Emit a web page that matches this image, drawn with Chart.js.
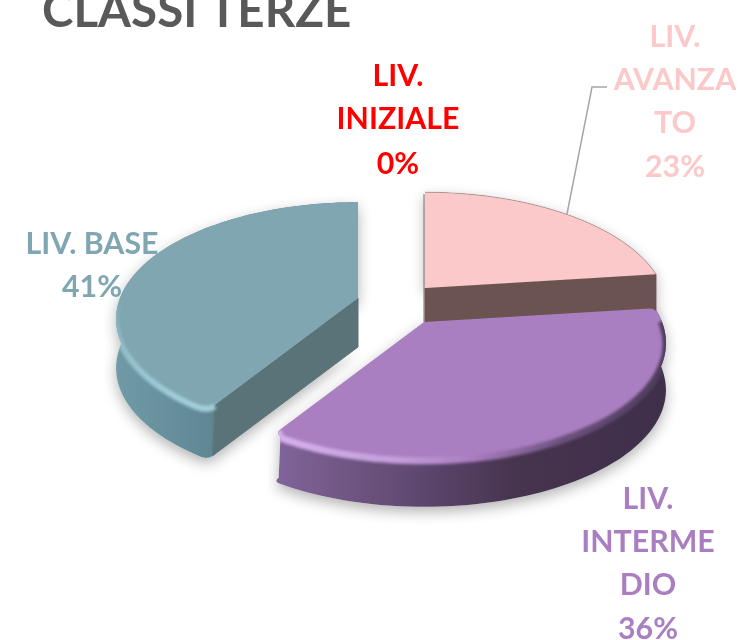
<!DOCTYPE html>
<html><head><meta charset="utf-8">
<style>html,body{margin:0;padding:0;background:#fff;overflow:hidden}canvas{display:block}</style>
<script src="https://cdn.jsdelivr.net/npm/chart.js@4"></script>
</head><body><canvas id="c" width="741" height="640"></canvas>
<script>
const titleText = "CLASSI TERZE";
const categories = ["LIV. INIZIALE", "LIV. AVANZATO", "LIV. INTERMEDIO", "LIV. BASE"];
const values = [0, 23, 36, 41];
const sliceColors = ["#ff0000", "#fcc9ca", "#aa7fc1", "#7fa6b1"];
const labelLines = [["LIV.", "INIZIALE"], ["LIV.", "AVANZA", "TO"], ["LIV.", "INTERME", "DIO"], ["LIV. BASE"]];

const FONT = "Lato, sans-serif";
const R = 238, H = 113, K = 0.18;
const sliceStyle = [
  null,
  {cx:425, cy:288, depth:50, rs:0, re:0, face:"#6a5350", side:[[0,"#6a5350"],[1,"#6a5350"]], faceEdge:"end"},
  {cx:424, cy:322, depth:47, rs:5, re:9, face:"#45324f",
   side:[[0,"#80639a"],[0.12,"#755a89"],[0.35,"#5e4870"],[0.6,"#47344f"],[1,"#3f2f4b"]], x0:280, x1:668,
   rim:[[0,"#d6b0ee"],[0.3,"#c59edb"],[0.5,"#a97dc0"],[0.72,"#6d5480"],[1,"#4c3a5a"]], rimW:7},
  {cx:358, cy:298, depth:49, rs:9, re:0, face:"#5a7379",
   side:[[0,"#6f9aa6"],[0.5,"#67909c"],[0.9,"#5f8894"],[1,"#587c86"]], x0:116, x1:220,
   rim:[[0,"rgba(138,182,194,0)"],[0.32,"#8cb8c4"],[1,"#a2cfdb"]], rimW:6, rimG:[0,295,0,405], faceEdge:"start"}
];
const labelPos = [
  {x:398, ys:[86,129,174]},
  {x:675, ys:[47,90,133,177]},
  {x:648, ys:[509,552,595,639]},
  {x:92, ys:[254,297]}
];
const drawOrder = [1,3,2];

function proj(s,a,dz){
  const sn=Math.sin(a), d=1/(1-K*sn);
  return {x:s.cx+R*Math.cos(a)*d, y:s.cy+H*sn*d+(dz||0)};
}
function roundCorner(pts,apex,r){
  if(!r) return pts;
  const c=pts[0]; let i=1;
  while(i<pts.length-1 && Math.hypot(pts[i].x-c.x,pts[i].y-c.y)<r) i++;
  const L=Math.hypot(apex.x-c.x,apex.y-c.y), e={x:c.x+(apex.x-c.x)*r/L,y:c.y+(apex.y-c.y)*r/L}, q=[];
  for(let t=0;t<=1.0001;t+=0.1){
    const u=1-t;
    q.push({x:u*u*e.x+2*u*t*c.x+t*t*pts[i].x,y:u*u*e.y+2*u*t*c.y+t*t*pts[i].y});
  }
  return q.concat(pts.slice(i+1));
}
function arcPts(s,a0,a1,dz){
  const n=80; let pts=[];
  for(let i=0;i<=n;i++) pts.push(proj(s,a0+(a1-a0)*i/n,dz));
  const apex={x:s.cx,y:s.cy+(dz||0)}, f=dz?0.7:1;
  pts=roundCorner(pts,apex,s.rs*f);
  pts=roundCorner(pts.reverse(),apex,s.re*f).reverse();
  return pts;
}
function trace(ctx,pts,first){pts.forEach((p,i)=>{ if(i===0&&first) ctx.moveTo(p.x,p.y); else ctx.lineTo(p.x,p.y);});}
function grad(ctx,x0,y0,x1,y1,stops){const g=ctx.createLinearGradient(x0,y0,x1,y1);stops.forEach(t=>g.addColorStop(t[0],t[1]));return g;}

function unionPath(ctx,s,a0,a1){
  const top=arcPts(s,a0,a1,0), bot=arcPts(s,a0,a1,s.depth);
  ctx.beginPath();
  trace(ctx,top,true); trace(ctx,bot.reverse(),false);
  ctx.lineTo(s.cx,s.cy+s.depth); ctx.closePath();
  ctx.moveTo(s.cx,s.cy); trace(ctx,top,false); ctx.closePath();
}

const pie3d = {
  id:"pie3d",
  beforeDatasetDraw(chart){
    const ctx=chart.ctx, arcs=chart.getDatasetMeta(0).data;
    ctx.save();
    drawOrder.forEach(i=>{
      const s=sliceStyle[i], a=arcs[i];
      ctx.save();
      ctx.shadowColor="rgba(0,0,0,0.30)"; ctx.shadowBlur=14; ctx.shadowOffsetY=5;
      ctx.fillStyle="#fff";
      unionPath(ctx,s,a.startAngle,a.endAngle); ctx.fill("nonzero");
      ctx.restore();
    });
    drawOrder.forEach(i=>{
      const s=sliceStyle[i], a=arcs[i], a0=a.startAngle, a1=a.endAngle;
      const top=arcPts(s,a0,a1,0), bot=arcPts(s,a0,a1,s.depth);
      ctx.beginPath(); trace(ctx,top,true); trace(ctx,bot.slice().reverse(),false); ctx.closePath();
      ctx.fillStyle=grad(ctx,s.x0||0,0,s.x1||741,0,s.side); ctx.fill();
      if(s.faceEdge){
        const atEnd=s.faceEdge==="end";
        const p=atEnd?top[top.length-1]:top[0], q=atEnd?bot[bot.length-1]:bot[0];
        ctx.beginPath(); ctx.moveTo(s.cx,s.cy); ctx.lineTo(p.x,p.y); ctx.lineTo(q.x,q.y); ctx.lineTo(s.cx,s.cy+s.depth); ctx.closePath();
        ctx.fillStyle=s.face; ctx.fill();
        ctx.strokeStyle=s.face; ctx.lineWidth=1; ctx.stroke();
      }
      if(i===1){
        ctx.beginPath(); ctx.moveTo(s.cx-1,s.cy-94); ctx.lineTo(s.cx-1,s.cy+34); ctx.strokeStyle="#7d6866"; ctx.lineWidth=1; ctx.stroke();
      }
      ctx.beginPath(); ctx.moveTo(s.cx,s.cy); trace(ctx,top,false); ctx.closePath();
      ctx.fillStyle=a.options.backgroundColor; ctx.fill();
      if(s.rim){
        ctx.save();
        unionPath(ctx,s,a0,a1); ctx.clip("nonzero");
        const g=s.rimG?grad(ctx,s.rimG[0],s.rimG[1],s.rimG[2],s.rimG[3],s.rim):grad(ctx,280,0,668,0,s.rim);
        ctx.filter="blur(1.6px)";
        ctx.beginPath();
        const from=i===2?12:0;
        trace(ctx,top.slice(from).map(p=>({x:p.x,y:p.y+1})),true);
        ctx.strokeStyle=g; ctx.lineWidth=s.rimW; ctx.lineJoin="round"; ctx.stroke();
        ctx.restore();
      } else {
        ctx.beginPath(); trace(ctx,top,true); ctx.strokeStyle="rgba(120,95,95,.4)"; ctx.lineWidth=1; ctx.stroke();
      }
    });
    ctx.restore();
    return false;
  },
  afterDraw(chart){
    const ctx=chart.ctx, data=chart.data.datasets[0];
    ctx.save();
    ctx.textBaseline="alphabetic"; ctx.textAlign="left";
    ctx.fillStyle="#595959"; ctx.font="bold 47.5px "+FONT;
    ctx.fillText(titleText,42,27);
    ctx.textAlign="center"; ctx.font="bold 30.3px "+FONT;
    labelPos.forEach((lp,i)=>{
      const lines=labelLines[i].concat([data.data[i]+"%"]);
      ctx.fillStyle=data.backgroundColor[i];
      lines.forEach((t,j)=>ctx.fillText(t,lp.x,lp.ys[j]));
    });
    ctx.beginPath(); ctx.moveTo(607,87); ctx.lineTo(592,87); ctx.lineTo(567,214);
    ctx.strokeStyle="#a6a6a6"; ctx.lineWidth=1.5; ctx.stroke();
    ctx.restore();
  }
};

new Chart(document.getElementById("c"),{
  type:"pie",
  data:{labels:categories,datasets:[{data:values,backgroundColor:sliceColors,borderWidth:0}]},
  options:{responsive:false,animation:false,rotation:0,plugins:{legend:{display:false},tooltip:{enabled:false},title:{display:false}}},
  plugins:[pie3d]
});
</script></body></html>
